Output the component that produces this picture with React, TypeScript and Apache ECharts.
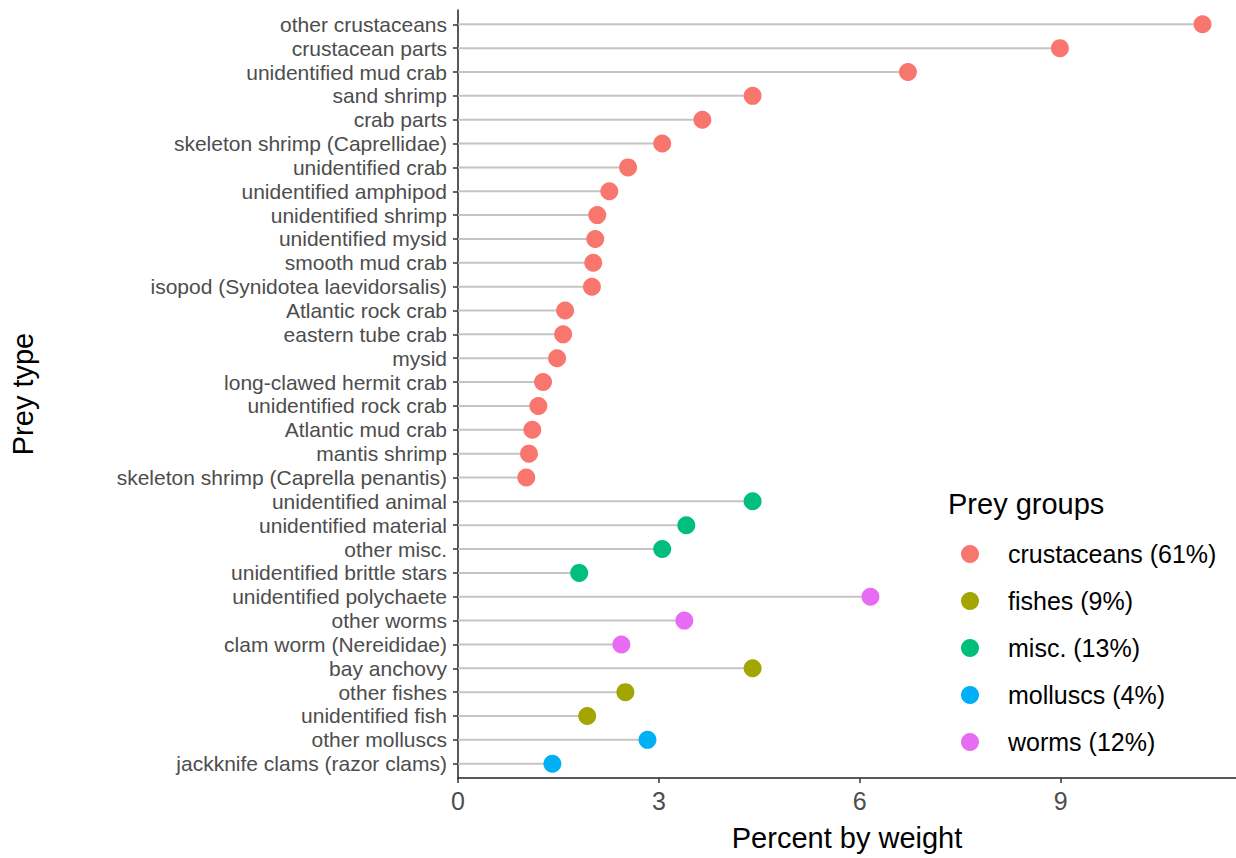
import React, { useEffect, useRef } from "react";
import * as echarts from "echarts";

const categories = [
  "other crustaceans",
  "crustacean parts",
  "unidentified mud crab",
  "sand shrimp",
  "crab parts",
  "skeleton shrimp (Caprellidae)",
  "unidentified crab",
  "unidentified amphipod",
  "unidentified shrimp",
  "unidentified mysid",
  "smooth mud crab",
  "isopod (Synidotea laevidorsalis)",
  "Atlantic rock crab",
  "eastern tube crab",
  "mysid",
  "long-clawed hermit crab",
  "unidentified rock crab",
  "Atlantic mud crab",
  "mantis shrimp",
  "skeleton shrimp (Caprella penantis)",
  "unidentified animal",
  "unidentified material",
  "other misc.",
  "unidentified brittle stars",
  "unidentified polychaete",
  "other worms",
  "clam worm (Nereididae)",
  "bay anchovy",
  "other fishes",
  "unidentified fish",
  "other molluscs",
  "jackknife clams (razor clams)",
];

const percentByWeight = [
  11.12, 8.99, 6.72, 4.4, 3.65, 3.05, 2.54, 2.26, 2.08, 2.05, 2.02, 2.0, 1.6,
  1.57, 1.48, 1.27, 1.2, 1.11, 1.06, 1.02, 4.4, 3.41, 3.05, 1.81, 6.16, 3.38,
  2.44, 4.4, 2.5, 1.93, 2.83, 1.41,
];

const preyGroupOf = [
  "crustaceans", "crustaceans", "crustaceans", "crustaceans", "crustaceans",
  "crustaceans", "crustaceans", "crustaceans", "crustaceans", "crustaceans",
  "crustaceans", "crustaceans", "crustaceans", "crustaceans", "crustaceans",
  "crustaceans", "crustaceans", "crustaceans", "crustaceans", "crustaceans",
  "misc.", "misc.", "misc.", "misc.",
  "worms", "worms", "worms",
  "fishes", "fishes", "fishes",
  "molluscs", "molluscs",
];

const groupNames = ["crustaceans", "fishes", "misc.", "molluscs", "worms"];
const groupLegendLabels = [
  "crustaceans (61%)",
  "fishes (9%)",
  "misc. (13%)",
  "molluscs (4%)",
  "worms (12%)",
];
const groupColors = ["#F8766D", "#A3A500", "#00BF7D", "#00B0F6", "#E76BF3"];

const xTicks = [0, 3, 6, 9];

const FONT = "'Liberation Sans', Arial, sans-serif";

export default function App() {
  const ref = useRef<HTMLDivElement>(null);

  useEffect(() => {
    if (!ref.current) return;
    const chart = echarts.init(ref.current, undefined, { renderer: "svg" });
    const idx = categories.map((_, i) => i);

    const scatterSeries = groupNames.map((g, gi) => ({
      type: "scatter",
      name: g,
      symbol: "circle",
      symbolSize: 18,
      itemStyle: { color: groupColors[gi], opacity: 1 },
      data: idx
        .filter((i) => preyGroupOf[i] === g)
        .map((i) => [percentByWeight[i], i]),
      z: 3,
    }));

    const legendGraphics: any[] = [
      {
        type: "text",
        left: 948,
        top: 489,
        style: {
          text: "Prey groups",
          font: `29px ${FONT}`,
          fill: "#000",
        },
      },
    ];
    groupLegendLabels.forEach((lab, gi) => {
      const cy = 554 + gi * 47;
      legendGraphics.push({
        type: "circle",
        shape: { cx: 970, cy, r: 9 },
        style: { fill: groupColors[gi] },
      });
      legendGraphics.push({
        type: "text",
        x: 1008,
        y: cy,
        style: {
          text: lab,
          font: `25px ${FONT}`,
          fill: "#000",
          verticalAlign: "middle",
          align: "left",
        },
      });
    });

    chart.setOption({
      animation: false,
      backgroundColor: "#fff",
      textStyle: { fontFamily: FONT },
      grid: { left: 457, right: 0, top: 10, bottom: 80, containLabel: false },
      xAxis: {
        type: "value",
        min: 0,
        max: 11.62,
        name: "Percent by weight",
        nameLocation: "middle",
        nameGap: 45,
        nameTextStyle: { fontSize: 29, color: "#000", fontFamily: FONT },
        axisLine: {
          show: true,
          onZero: false,
          lineStyle: { color: "#222", width: 1.5 },
        },
        axisTick: {
          show: true,
          length: 5,
          customValues: xTicks,
          lineStyle: { color: "#333", width: 1.5 },
        },
        axisLabel: {
          customValues: xTicks,
          fontSize: 25,
          color: "#4d4d4d",
          margin: 10,
          fontFamily: FONT,
        },
        splitLine: { show: false },
      },
      yAxis: {
        type: "value",
        inverse: true,
        min: -0.6,
        max: 31.6,
        name: "Prey type",
        nameLocation: "middle",
        nameRotate: 90,
        nameGap: 421,
        nameTextStyle: { fontSize: 29, color: "#000", fontFamily: FONT },
        axisLine: {
          show: true,
          onZero: false,
          lineStyle: { color: "#222", width: 1.5 },
        },
        axisTick: {
          show: true,
          length: 5,
          customValues: idx,
          lineStyle: { color: "#333", width: 1.5 },
        },
        axisLabel: {
          customValues: idx,
          formatter: (v: number) => categories[Math.round(v)] ?? "",
          fontSize: 21,
          color: "#4d4d4d",
          margin: 11,
          fontFamily: FONT,
        },
        splitLine: { show: false },
      },
      series: [
        {
          type: "custom",
          name: "segments",
          data: idx.map((i) => [percentByWeight[i], i]),
          renderItem: (params: any, api: any) => {
            const v = api.value(0);
            const y = api.value(1);
            const p0 = api.coord([0, y]);
            const p1 = api.coord([v, y]);
            return {
              type: "line",
              shape: { x1: p0[0], y1: p0[1], x2: p1[0], y2: p1[1] },
              style: { stroke: "#c4c4c4", lineWidth: 2 },
            };
          },
          z: 1,
        },
        ...scatterSeries,
      ],
      graphic: legendGraphics,
    });

    return () => chart.dispose();
  }, []);

  return (
    <div
      ref={ref}
      style={{ position: "fixed", left: 0, top: 0, width: 1236, height: 858 }}
    />
  );
}
